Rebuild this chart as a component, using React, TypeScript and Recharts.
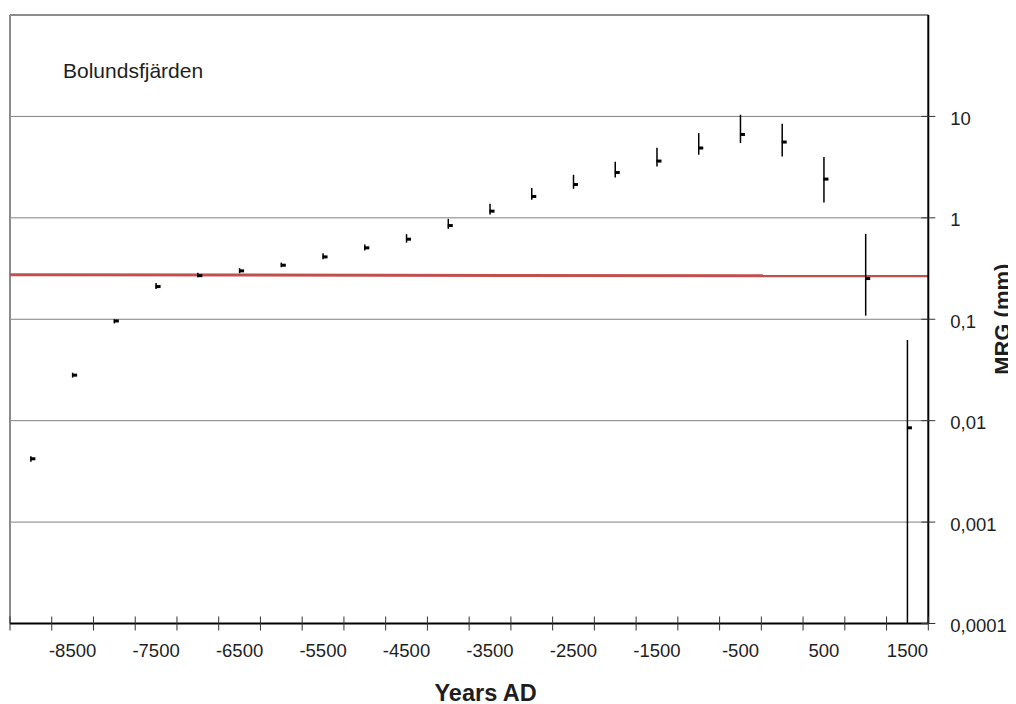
import React from 'react';
import {
  ComposedChart,
  Scatter,
  ErrorBar,
  XAxis,
  YAxis,
  CartesianGrid,
  ReferenceLine,
  ReferenceDot,
} from 'recharts';

const years = [
  -9000, -8500, -8000, -7500, -7000, -6500, -6000, -5500, -5000, -4500, -4000,
  -3500, -3000, -2500, -2000, -1500, -1000, -500, 0, 500, 1000, 1500,
];
const mrg = [
  0.00421, 0.0281, 0.0962, 0.21, 0.269, 0.3, 0.341, 0.412, 0.506, 0.616, 0.839,
  1.164, 1.623, 2.132, 2.8, 3.63, 4.88, 6.64, 5.59, 2.41, 0.252, 0.0085,
];
const mrgLow = [
  0.00393, 0.0266, 0.091, 0.199, 0.26, 0.2845, 0.326, 0.391, 0.477, 0.57, 0.779,
  1.078, 1.505, 1.933, 2.5, 3.21, 4.19, 5.46, 4.03, 1.416, 0.1085, 0.0001,
];
const mrgHigh = [
  0.00447, 0.0297, 0.1, 0.228, 0.288, 0.3187, 0.362, 0.448, 0.547, 0.69, 0.977,
  1.374, 1.964, 2.658, 3.572, 4.91, 6.85, 10.39, 8.47, 3.97, 0.695, 0.0625,
];

// red reference line: value at left and right edges
const redLineX = [-9250, 1750];
const redLineY = [0.274, 0.268];

const xLabels = [-8500, -7500, -6500, -5500, -4500, -3500, -2500, -1500, -500, 500, 1500];
const xTickMarks = [
  -9250, -8750, -8250, -7750, -7250, -6750, -6250, -5750, -5250, -4750, -4250, -3750,
  -3250, -2750, -2250, -1750, -1250, -750, -250, 250, 750, 1250, 1750,
];
const yTicks = [0.0001, 0.001, 0.01, 0.1, 1, 10, 100];
const yTickLabels = ['0,0001', '0,001', '0,01', '0,1', '1', '10', ''];

const rows = years.map((year, i) => ({
  year,
  mrg: mrg[i],
  err: [mrg[i] - mrgLow[i], mrgHigh[i] - mrg[i]],
}));

const FONT = '"Liberation Sans", Arial, Helvetica, sans-serif';
const TEXT = '#1e1e1e';

const allXTicks = [...xTickMarks, ...xLabels].sort((a, b) => a - b);

const XTick = (props: any) => {
  const { x, y, payload } = props;
  const v = payload.value;
  if (xLabels.includes(v)) {
    return (
      <g>
        <text x={x} y={y + 33} textAnchor="middle" fontSize={18.5} fill={TEXT} fontFamily={FONT}>
          {String(v)}
        </text>
      </g>
    );
  }
  return (
    <g>
      <path d={`M${x},${y - 7}V${y + 7}`} stroke="#333" strokeWidth={1} fill="none" />
    </g>
  );
};

const YTick = (props: any) => {
  const { x, y, payload } = props;
  const idx = yTicks.indexOf(payload.value);
  const label = idx >= 0 ? yTickLabels[idx] : '';
  if (!label) return <g />;
  return (
    <g>
      <path d={`M${x - 7},${y}H${x + 7}`} stroke="#333" strokeWidth={1} fill="none" />
      <text x={x + 22} y={y + 8.5} textAnchor="start" fontSize={18.5} fill={TEXT} fontFamily={FONT}>
        {label}
      </text>
    </g>
  );
};

const Marker = (props: any) => {
  const { cx, cy } = props;
  if (cx == null || cy == null) return <g />;
  return <rect x={cx - 0.5} y={cy - 1.5} width={5} height={3} fill="#000" />;
};

export default function App() {
  return (
    <ComposedChart
      width={1008}
      height={696}
      data={rows}
      margin={{ top: 7, right: 15.7, bottom: 40.5, left: 2 }}
    >
      <CartesianGrid vertical={false} stroke="#808080" strokeWidth={1} />
      <XAxis
        dataKey="year"
        type="number"
        domain={[-9250, 1750]}
        ticks={allXTicks}
        interval={0}
        tickSize={0}
        tickMargin={0}
        tickLine={false}
        tick={XTick}
        axisLine={{ stroke: '#000', strokeWidth: 2 }}
        height={40}
        allowDataOverflow
        label={(p: any) => {
          const vb = p.viewBox;
          return (
            <text
              x={vb.x + vb.width / 2 + 16.5}
              y={vb.y + 77}
              textAnchor="middle"
              fontSize={23.5}
              fontWeight="bold"
              fill={TEXT}
              fontFamily={FONT}
            >
              Years AD
            </text>
          );
        }}
      />
      <YAxis
        orientation="right"
        scale="log"
        domain={[0.0001, 100]}
        ticks={yTicks}
        interval={0}
        tickSize={0}
        tickMargin={0}
        tickLine={false}
        tick={YTick}
        axisLine={{ stroke: '#000', strokeWidth: 2 }}
        width={72}
        allowDataOverflow
        label={(p: any) => {
          const vb = p.viewBox;
          const cx = vb.x + 74;
          const cy = vb.y + vb.height / 2;
          return (
            <text
              x={cx}
              y={cy}
              transform={`rotate(-90, ${cx}, ${cy})`}
              textAnchor="middle"
              dominantBaseline="central"
              fontSize={22}
              fontWeight="bold"
              fill={TEXT}
              fontFamily={FONT}
            >
              MRG (mm)
            </text>
          );
        }}
      />
      <ReferenceLine x={-9250} stroke="#8c8c8c" strokeWidth={2} />
      <ReferenceLine y={100} stroke="#8c8c8c" strokeWidth={2} />
      <ReferenceLine
        segment={[
          { x: redLineX[0], y: redLineY[0] },
          { x: redLineX[1], y: redLineY[1] },
        ]}
        stroke="#c0504d"
        strokeWidth={3}
      />
      <ReferenceDot
        x={-8615}
        y={23.9}
        r={0}
        fill="none"
        stroke="none"
        label={(p: any) => {
          const vb = p.viewBox;
          return (
            <text x={vb.x} y={vb.y} textAnchor="start" fontSize={21} fill={TEXT} fontFamily={FONT}>
              Bolundsfjärden
            </text>
          );
        }}
      />
      <Scatter dataKey="mrg" shape={Marker} isAnimationActive={false}>
        <ErrorBar dataKey="err" direction="y" width={0} stroke="#000" strokeWidth={1.5} />
      </Scatter>
    </ComposedChart>
  );
}
